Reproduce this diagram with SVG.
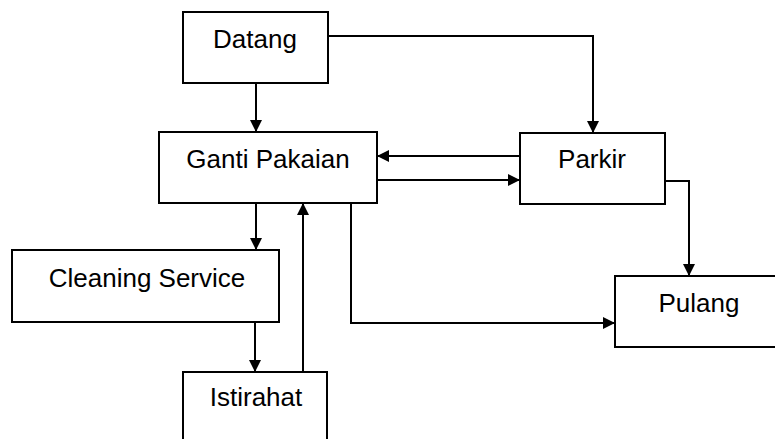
<svg xmlns="http://www.w3.org/2000/svg" width="775" height="439" viewBox="0 0 775 439">
<style>
.box{fill:#fff;stroke:#000;stroke-width:2}
.lbl{font-family:"Liberation Sans",Arial,sans-serif;font-size:26px;fill:#000;text-anchor:middle}
.con{fill:none;stroke:#000;stroke-width:2;marker-end:url(#ah)}
</style>
<defs>
<marker id="ah" viewBox="0 0 12 12" refX="12" refY="6" markerWidth="12" markerHeight="12" markerUnits="userSpaceOnUse" orient="auto">
<path d="M0,0 L12,6 L0,12 Z" fill="#000"/>
</marker>
</defs>
<rect width="775" height="439" fill="#fff"/>
<g id="connectors">
<path class="con" d="M256,83 V132"/>
<path class="con" d="M328,36 H593 V133"/>
<path class="con" d="M520,156 H377"/>
<path class="con" d="M377,180 H520"/>
<path class="con" d="M665,181 H689 V276"/>
<path class="con" d="M351,203 V323 H615"/>
<path class="con" d="M256,203 V250"/>
<path class="con" d="M255,322 V372"/>
<path class="con" d="M303,372 V203"/>
</g>
<g id="datang"><rect class="box" x="183" y="12" width="145" height="71"/><text class="lbl" x="255" y="48">Datang</text></g>
<g id="ganti"><rect class="box" x="159" y="132" width="218" height="71"/><text class="lbl" x="268" y="168">Ganti Pakaian</text></g>
<g id="parkir"><rect class="box" x="520" y="133" width="145" height="71"/><text class="lbl" x="592" y="168">Parkir</text></g>
<g id="cleaning"><rect class="box" x="12" y="250" width="267" height="72"/><text class="lbl" x="147" y="287">Cleaning Service</text></g>
<g id="pulang"><rect class="box" x="615" y="276" width="170" height="71"/><text class="lbl" x="699" y="312">Pulang</text></g>
<g id="istirahat"><rect class="box" x="183" y="372" width="144" height="80"/><text class="lbl" x="256" y="406">Istirahat</text></g>
</svg>
